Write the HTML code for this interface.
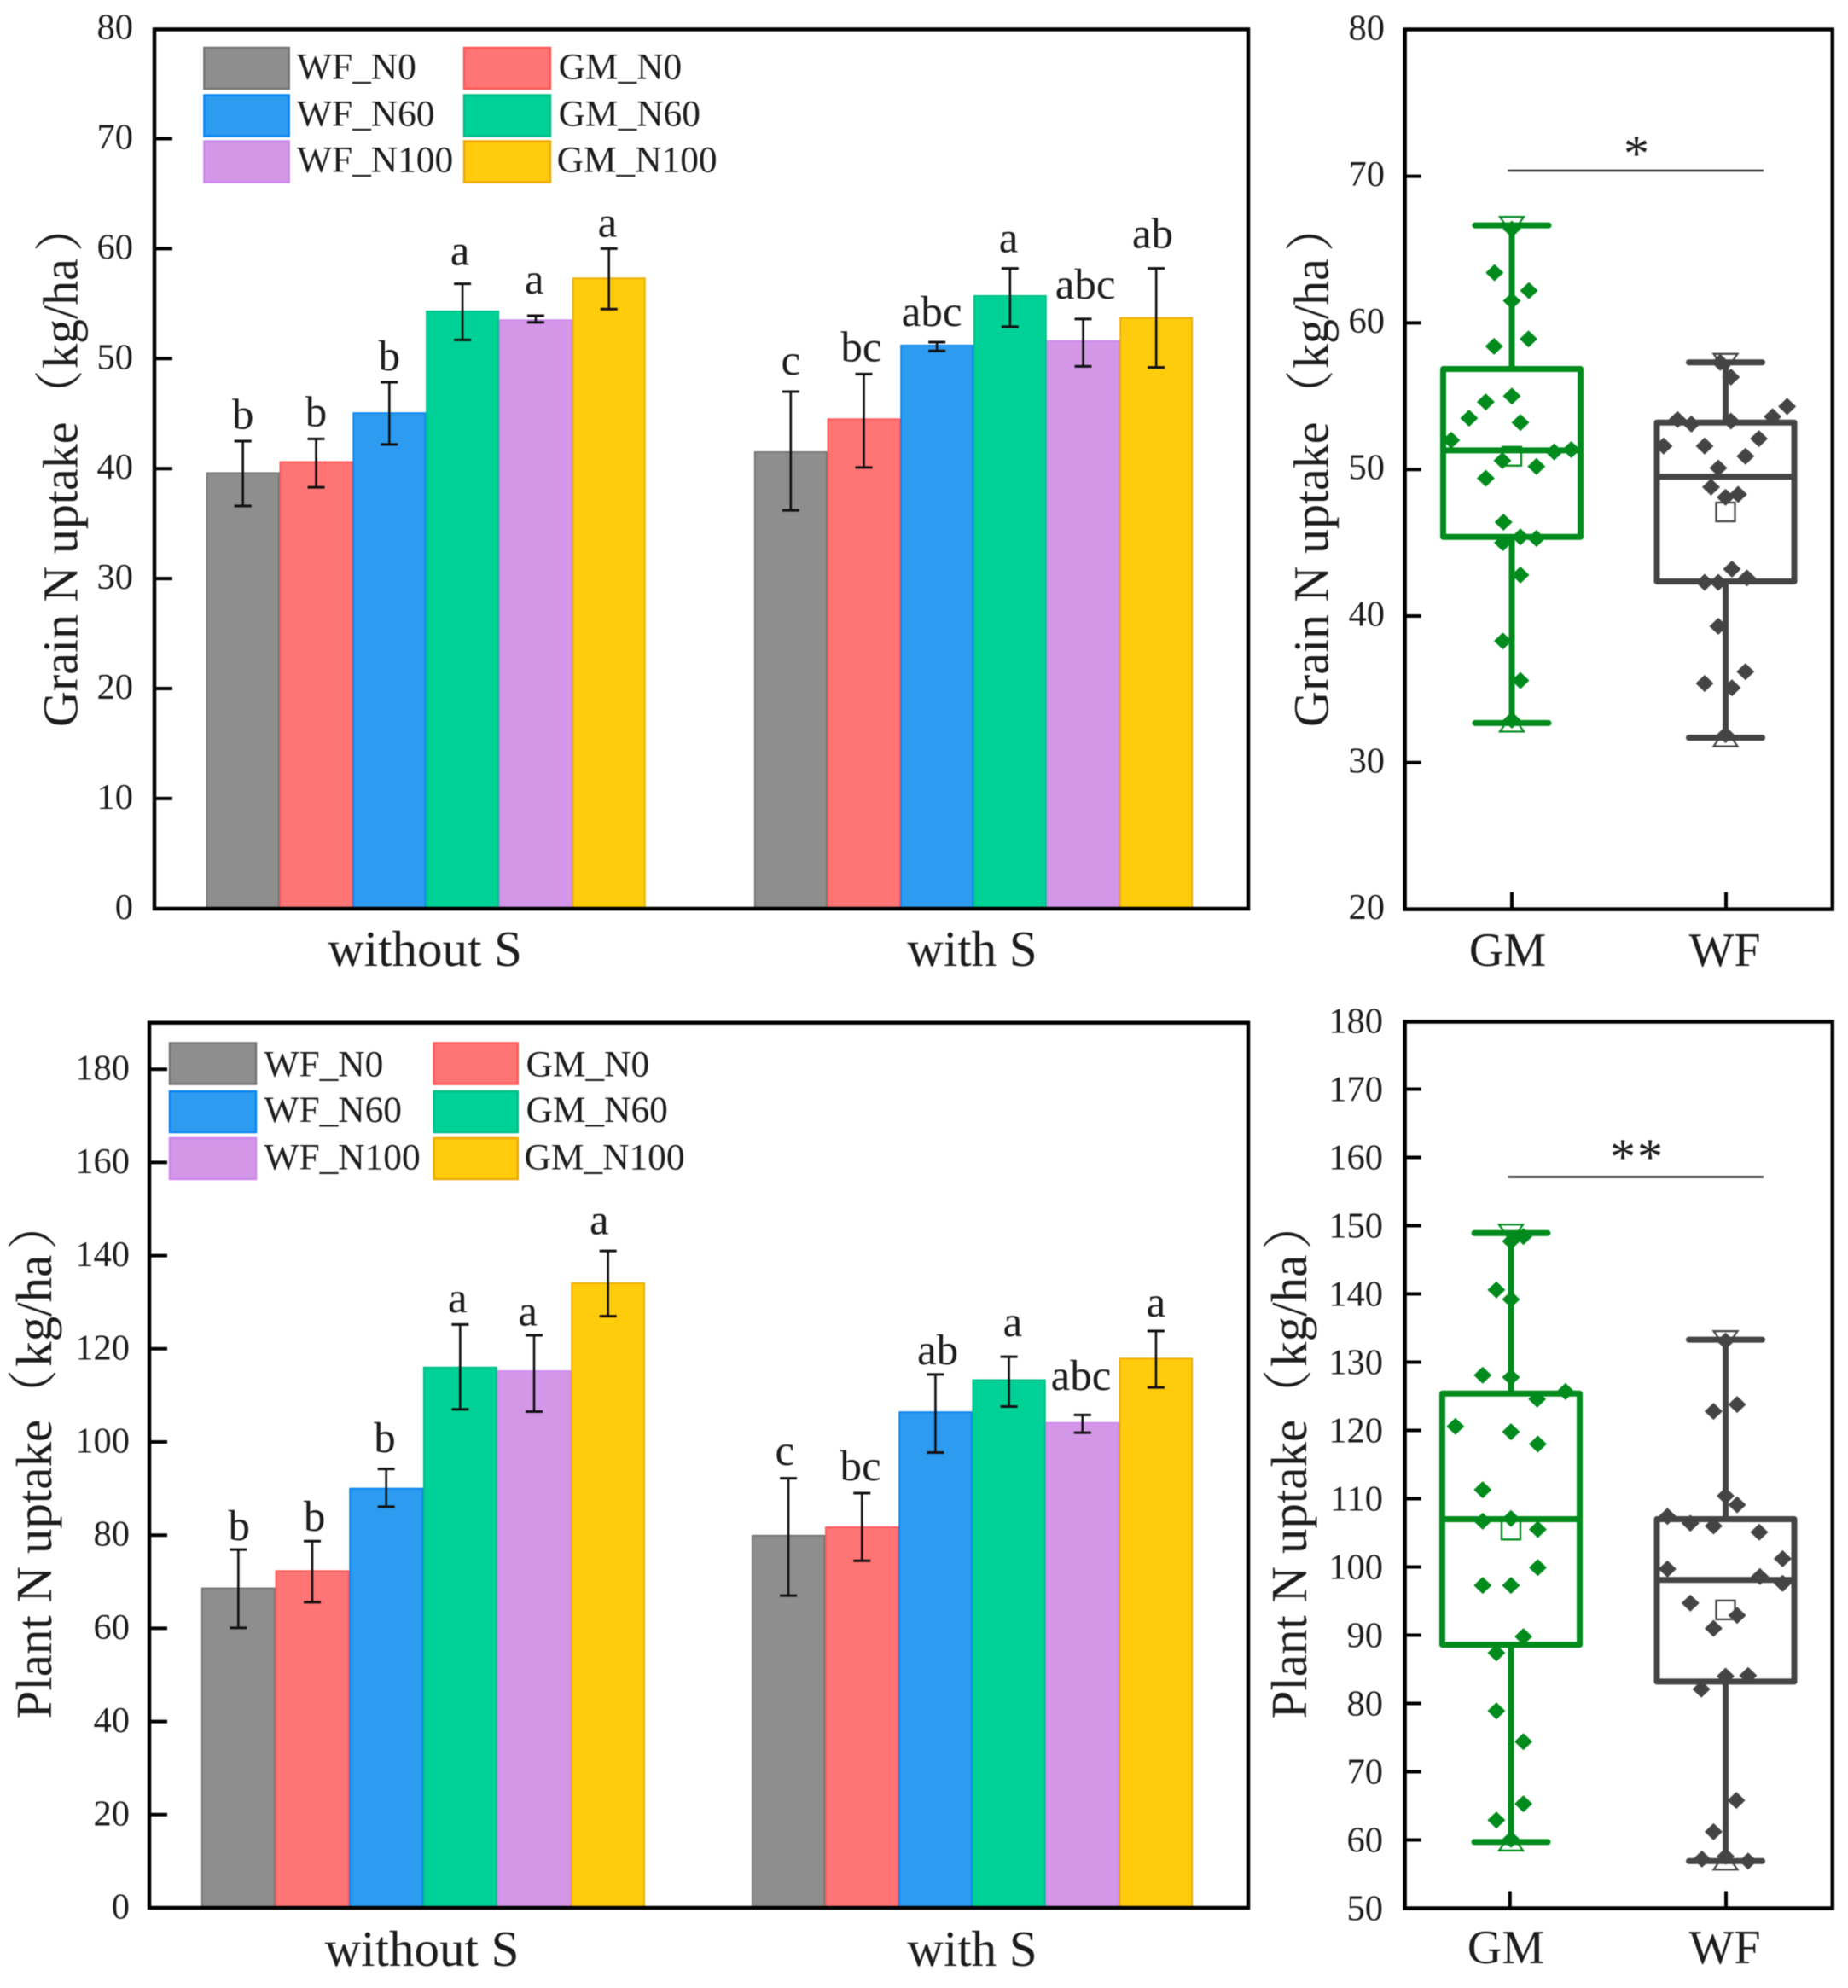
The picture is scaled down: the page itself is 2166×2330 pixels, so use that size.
<!DOCTYPE html>
<html>
<head>
<meta charset="utf-8">
<title>N uptake charts</title>
<style>
html,body{margin:0;padding:0;background:#fff;}
svg{display:block;filter:blur(0.6px);}
text{font-family:"Liberation Serif","Noto Serif CJK SC",serif;fill:#1c1c1c;}
</style>
</head>
<body>
<svg id="figure" xmlns="http://www.w3.org/2000/svg" width="2166" height="2330" viewBox="0 0 2166 2330"></svg>
<script>
// ---------- shared categories ----------
const seriesNames = ['WF_N0','GM_N0','WF_N60','GM_N60','WF_N100','GM_N100'];
const legendOrder = ['WF_N0','WF_N60','WF_N100','GM_N0','GM_N60','GM_N100'];
const barGroups = ['without S','with S'];
const boxCategories = ['GM','WF'];

// ---------- grain N uptake bars ----------
const grainTicks = [0,10,20,30,40,50,60,70,80];
const grainMeans = [39.6,40.6,45.05,54.3,53.5,57.3, 41.5,44.5,51.2,55.7,51.6,53.7];
const grainErrHigh = [42.5,42.7,47.85,56.8,53.9,60, 47.0,48.6,51.5,58.2,53.6,58.2];
const grainErrLow = [36.6,38.3,42.2,51.7,53.3,54.5, 36.2,40.1,50.7,52.9,49.3,49.2];
const grainLetters = ['b','b','b','a','a','a','c','bc','abc','a','abc','ab'];
const grainLetterLift = [1.13,1.16,1.09,1.7,2.0,1.09, 1.55,1.16,1.47,1.47,1.86,1.86];
const grainLetterShift = [0,0,0,-.035,-.02,-.02, 0,-.035,-.07,-.02,.03,-.05];

// ---------- plant N uptake bars ----------
const plantTicks = [0,20,40,60,80,100,120,140,160,180];
const plantMeans = [68.6,72.3,90,116,115.2,134.1, 79.9,81.7,106.4,113.3,104.1,117.9];
const plantErrHigh = [76.9,78.7,94.2,125.2,122.9,141, 92.2,89,114.5,118.3,105.8,123.8];
const plantErrLow = [60.1,65.6,86.1,107,106.5,127, 67,74.5,97.7,107.6,102,111.7];
const plantLetters = ['b','b','b','a','a','a','c','bc','ab','a','abc','a'];
const plantLetterLift = [2.07,2.25,3.6,2.67,2.1,3.6, 2.86,2.75,2.14,4.45,5.37,3.1];
const plantLetterShift = [.01,.03,-.02,-.035,-.085,-.12, -.05,-.02,.03,.05,-.02,0];

// ---------- grain N uptake boxes: GM, WF ----------
const grainBoxTicks = [20,30,40,50,60,70,80];
const grainBoxLow = [32.7,31.7];
const grainBoxQ1 = [45.4,42.36];
const grainBoxMedian = [51.3,49.5];
const grainBoxQ3 = [56.85,53.2];
const grainBoxHigh = [66.65,57.3];
const grainBoxMean = [50.9,47.1];
const grainGmValues = [63.42,62.2,61.5,58.4,58.9,55.0,54.6,53.5,53.2,52.0,51.2,51.35,50.6,50.2,49.4,66.4,46.4,45.4,45.3,45.0,42.8,38.3,35.6,32.9];
const grainGmJitter = [-.081,.08,0,-.083,.078,0,-.122,-.2,.04,-.284,.198,.278,-.044,.115,-.122,0,-.039,.04,.115,-.042,.04,-.042,.04,0];
const grainWfValues = [57.3,56.3,54.3,53.6,53.4,53.1,53.3,52.1,51.6,51.6,50.9,50.1,48.8,48.3,48.1,43.2,42.6,42.3,42.3,39.3,36.2,35.4,35.1,31.9];
const grainWfJitter = [-.025,.025,.288,.22,-.225,-.16,.025,.156,-.29,-.098,.093,-.034,-.068,.059,0,.03,.1,-.098,-.034,-.034,.093,-.098,.03,0];

// ---------- plant N uptake boxes: GM, WF ----------
const plantBoxTicks = [50,60,70,80,90,100,110,120,130,140,150,160,170,180];
const plantBoxLow = [59.7,56.9];
const plantBoxQ1 = [88.6,83.2];
const plantBoxMedian = [107,98.1];
const plantBoxQ3 = [125.4,107];
const plantBoxHigh = [148.9,133.3];
const plantBoxMean = [105.4,93.7];
const plantGmValues = [148.4,147.7,140.6,139.2,128.1,127.8,125.7,124.6,120.6,119.8,118,111.3,106.7,107.1,105.5,99.9,97.3,97.3,89.8,87.4,78.9,74.4,65.3,62.9,60.1];
const plantGmJitter = [.058,0,-.068,0,-.132,0,.254,.122,-.259,0,.125,-.132,-.132,0,.125,.125,-.132,0,.058,-.068,-.068,.058,.058,-.068,0];
const plantWfValues = [123.8,122.8,133.1,110.4,109.1,107.4,106.4,106,105.1,101.2,99.7,98.6,97.6,94.7,92.9,91,84,84.1,82.1,65.8,61.2,57.6,57.2,56.9];
const plantWfJitter = [.054,-.056,0,0,.054,-.271,-.164,-.056,.157,.266,-.271,.16,.266,-.164,.054,-.056,0,.105,-.113,.05,-.056,0,-.11,.105];

// ---------- styling ----------
const seriesFill = {WF_N0:'#8e8e8e',GM_N0:'#ff7474',WF_N60:'#2c9bf0',GM_N60:'#00d196',WF_N100:'#d497e8',GM_N100:'#ffcb0d'};
const seriesEdge = {WF_N0:'#757575',GM_N0:'#ff5a5a',WF_N60:'#0a86f0',GM_N60:'#00bf88',WF_N100:'#cd88ee',GM_N100:'#eeaa00'};
const boxColor = {GM:'#008b1c',WF:'#444444'};

const NS = 'http://www.w3.org/2000/svg';
const svg = document.getElementById('figure');
function mk(tag, attrs, parent){
  const e = document.createElementNS(NS, tag);
  for (const k in attrs) e.setAttribute(k, attrs[k]);
  (parent || svg).appendChild(e);
  return e;
}
function linearY(bottomPx, pxPerUnit, base){ return v => bottomPx - (v - base) * pxPerUnit; }

function drawFrame(g, box){
  const f = mk('rect',{x:box.l,y:box.t,width:box.r-box.l,height:box.b-box.t,fill:'none',stroke:'#000','stroke-width':4.5},g);
  
  
}
function drawYAxis(g, ticks, y, box, labelRight, tickLen, dy){
  ticks.forEach(t => {
    const px = y(t);
    const tick = mk('line',{x1:box.l,x2:box.l+tickLen,y1:px,y2:px,stroke:'#000','stroke-width':4},g);
    
    
    const lab = mk('text',{x:labelRight,y:px+dy,'text-anchor':'end','font-size':42.5},g);
    lab.textContent = String(t);
    
    
  });
}
function drawYTitle(g, word, unit, x, y, size, dx){
  const t = mk('text',{x:x,y:y,transform:'rotate(-90 '+x+' '+y+')','font-size':size},g);
  
  
  t.appendChild(document.createTextNode(word));
  const open = mk('tspan',{dx:dx[0]},t);
  open.textContent = '（';
  const inner = mk('tspan',{dx:dx[1]},t);
  inner.textContent = unit;
  const close = mk('tspan',{dx:dx[2]},t);
  close.textContent = '）';
}
function drawLegend(g, cols, rows, textX, swW, baselines){
  legendOrder.forEach((name,i) => {
    const c = i < 3 ? 0 : 1, r = i % 3;
    const sw = mk('rect',{x:cols[c],y:rows[r],width:swW[c],height:48,fill:seriesFill[name],stroke:seriesEdge[name],'stroke-width':2.5},g);
    
    
    const t = mk('text',{x:textX[c]-(name==='GM_N100'?2:0),y:baselines[r],'font-size':43.4},g);
    t.textContent = name;
    
    
  });
}
function drawBars(g, cfg){
  cfg.means.forEach((m,i) => {
    const grp = i < 6 ? 0 : 1, k = i % 6;
    const name = seriesNames[k];
    const x0 = cfg.groupStart[grp] + k * cfg.groupStep[grp];
    const w = cfg.groupStep[grp];
    const top = cfg.y(m), base = cfg.y(0);
    const bar = mk('rect',{x:x0+0.8,y:top,width:w-1.6,height:base-top,fill:seriesFill[name],stroke:seriesEdge[name],'stroke-width':1.8},g);
    
    
  });
  cfg.means.forEach((m,i) => {
    const grp = i < 6 ? 0 : 1, k = i % 6;
    const cx = cfg.groupStart[grp] + (k+0.5) * cfg.groupStep[grp];
    const hi = cfg.y(cfg.errHigh[i]), lo = cfg.y(cfg.errLow[i]);
    const stem = mk('line',{x1:cx,x2:cx,y1:hi,y2:lo,stroke:'#111','stroke-width':2.6},g);
    
    
    const capT = mk('line',{x1:cx-10,x2:cx+10,y1:hi,y2:hi,stroke:'#111','stroke-width':3},g);
    
    
    const capB = mk('line',{x1:cx-10,x2:cx+10,y1:lo,y2:lo,stroke:'#111','stroke-width':3},g);
    
    
    const t = mk('text',{x:cx+cfg.shift[i]*cfg.groupStep[grp],y:cfg.y(cfg.errHigh[i]+cfg.lift[i]),'text-anchor':'middle','font-size':51},g);
    t.textContent = cfg.letters[i];
    
    
  });
}
function drawGroupLabels(g, centers, baseline){
  barGroups.forEach((name,i) => {
    const t = mk('text',{x:centers[i],y:baseline,'text-anchor':'middle','font-size':59},g);
    t.textContent = name;
    
    
  });
}
function drawBoxes(g, cfg){
  const xCat = i => cfg.x0 + i * cfg.xStep;
  boxCategories.forEach((name,i) => {
    const cx = xCat(i), col = boxColor[name], y = cfg.y;
    const tick = mk('line',{x1:cfg.tickX[i],x2:cfg.tickX[i],y1:cfg.box.b,y2:cfg.box.b-20,stroke:'#000','stroke-width':4},g);
    
    
    const lab = mk('text',{x:cfg.labelX[i],y:cfg.catBaseline,'text-anchor':'middle','font-size':56},g);
    lab.textContent = name;
    
    

    const vals = cfg.points[i], jit = cfg.jitter[i];
    vals.forEach((v,j) => {
      const px = cx + jit[j]*cfg.xStep, py = y(v);
      const d = mk('polygon',{points:[px,py-10,px+10.5,py,px,py+10,px-10.5,py].join(' '),fill:col},g);
      
      
    });

    const w1 = mk('line',{x1:cx,x2:cx,y1:y(cfg.high[i]),y2:y(cfg.q3[i]),stroke:col,'stroke-width':7},g);
    
    
    const w2 = mk('line',{x1:cx,x2:cx,y1:y(cfg.q1[i]),y2:y(cfg.low[i]),stroke:col,'stroke-width':7},g);
    
    
    const c1 = mk('line',{x1:cx-43,x2:cx+43,y1:y(cfg.high[i]),y2:y(cfg.high[i]),stroke:col,'stroke-width':7,'stroke-linecap':'round'},g);
    
    
    const c2 = mk('line',{x1:cx-43,x2:cx+43,y1:y(cfg.low[i]),y2:y(cfg.low[i]),stroke:col,'stroke-width':7,'stroke-linecap':'round'},g);
    
    

    const hy = y(cfg.high[i]), ly = y(cfg.low[i]);
    const t1 = mk('polygon',{points:[cx-14,hy-10,cx+14,hy-10,cx,hy+10].join(' '),fill:'none',stroke:col,'stroke-width':2.2},g);
    
    
    const t2 = mk('polygon',{points:[cx-14,ly+10,cx+14,ly+10,cx,ly-10].join(' '),fill:'none',stroke:col,'stroke-width':2.2},g);
    
    

    const rect = mk('rect',{x:cx-80.5,y:y(cfg.q3[i]),width:161,height:y(cfg.q1[i])-y(cfg.q3[i]),fill:'none',stroke:col,'stroke-width':7,'stroke-linejoin':'round'},g);
    
    
    const med = mk('line',{x1:cx-80.5,x2:cx+80.5,y1:y(cfg.median[i]),y2:y(cfg.median[i]),stroke:col,'stroke-width':7},g);
    
    
    const my = y(cfg.mean[i]);
    const mean = mk('rect',{x:cx-11,y:my-11,width:22,height:22,fill:'none',stroke:col,'stroke-width':2.3},g);
    
    
  });
  const sig = mk('line',{x1:1767.6,x2:2067,y1:cfg.sigY,y2:cfg.sigY,stroke:'#333','stroke-width':2.6},g);
  
  
  const st = mk('text',{x:1919,y:cfg.sigY+cfg.starDy,'text-anchor':'middle','font-size':60,'letter-spacing':2},g);
  st.textContent = cfg.stars;
  
  
}

// ---------- panel A ----------
const gA = mk('g',{});


const yA = linearY(1064.8, 12.89, 0);
const boxA = {l:181,r:1463,t:34.4,b:1065};
drawBars(gA,{means:grainMeans,errHigh:grainErrHigh,errLow:grainErrLow,letters:grainLetters,lift:grainLetterLift,shift:grainLetterShift,y:yA,groupStart:[241.8,884],groupStep:[85.8,85.67]});
drawYAxis(gA,grainTicks.slice(1,-1),yA,boxA,156,21,12);
drawYAxis(gA,[0,80],yA,boxA,156,0,12);
drawFrame(gA,boxA);
drawYTitle(gA,'Grain N uptake','kg/ha',90.7,852,58,[3,1.5,8]);
drawLegend(gA,[239.4,544],[56,111.5,165.5],[348,654.6],[99.3,101],[92.5,147.5,201.5]);
drawGroupLabels(gA,[498,1139.5],1132);

// ---------- panel C ----------
const gC = mk('g',{});


const yC = linearY(2236, 5.46, 0);
const boxC = {l:175,r:1463,t:1198.7,b:2236};
drawBars(gC,{means:plantMeans,errHigh:plantErrHigh,errLow:plantErrLow,letters:plantLetters,lift:plantLetterLift,shift:plantLetterShift,y:yC,groupStart:[236,881],groupStep:[86.67,86.17]});
drawYAxis(gC,plantTicks.slice(1),yC,boxC,152,21,12.5);
drawYAxis(gC,[0],yC,boxC,152,0,12.5);
drawFrame(gC,boxC);
drawYTitle(gC,'Plant N uptake','kg/ha',60,2014.5,59,[0,3,6]);
drawLegend(gC,[199,508.6],[1222.5,1279,1334],[309.5,616.5],[101,98.2],[1261.5,1315,1370.5]);
drawGroupLabels(gC,[494.5,1139.5],2304);

// ---------- panel B ----------
const gB = mk('g',{});


const yB = linearY(1065.6, 17.18, 20);
const boxB = {l:1646.6,r:2147.8,t:34.5,b:1065.6};
drawYAxis(gB,grainBoxTicks.slice(1,-1),yB,boxB,1623,19,11.5);
drawYAxis(gB,[20,80],yB,boxB,1623,0,11.5);
drawBoxes(gB,{y:yB,box:boxB,x0:1772,xStep:250.5,tickX:[1772,2023],labelX:[1767,2021.5],catBaseline:1132,low:grainBoxLow,q1:grainBoxQ1,median:grainBoxMedian,q3:grainBoxQ3,high:grainBoxHigh,mean:grainBoxMean,points:[grainGmValues,grainWfValues],jitter:[grainGmJitter,grainWfJitter],sigY:200,starDy:0,stars:'*'});
drawFrame(gB,boxB);
drawYTitle(gB,'Grain N uptake','kg/ha',1556.5,852,58,[3,1.5,8]);

// ---------- panel D ----------
const gD = mk('g',{});


const yD = linearY(2236.5, 8.0, 50);
const boxD = {l:1646.6,r:2147.8,t:1197.5,b:2236.5};
drawYAxis(gD,plantBoxTicks.slice(1,-1),yD,boxD,1621,19,14);
drawYAxis(gD,[50,180],yD,boxD,1621,0,14);
drawBoxes(gD,{y:yD,box:boxD,x0:1771,xStep:251.5,tickX:[1769.8,2023],labelX:[1765,2021.5],catBaseline:2301,low:plantBoxLow,q1:plantBoxQ1,median:plantBoxMedian,q3:plantBoxQ3,high:plantBoxHigh,mean:plantBoxMean,points:[plantGmValues,plantWfValues],jitter:[plantGmJitter,plantWfJitter],sigY:1379.4,starDy:-3.4,stars:'**'});
drawFrame(gD,boxD);
drawYTitle(gD,'Plant N uptake','kg/ha',1531,2014.5,59,[0,3,6]);
</script>
</body>
</html>
